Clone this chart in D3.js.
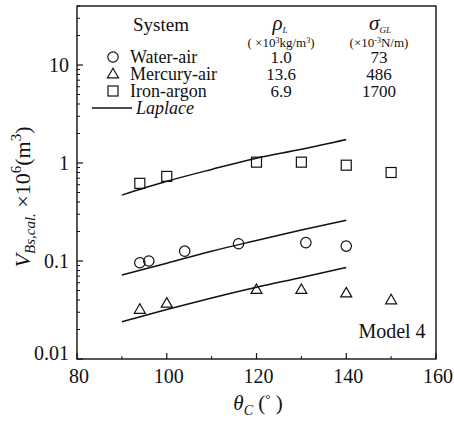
<!DOCTYPE html>
<html>
<head>
<meta charset="utf-8">
<script src="https://cdn.jsdelivr.net/npm/d3@7/dist/d3.min.js"></script>
<style>
  html, body { margin: 0; padding: 0; background: #fff; }
  svg, svg text { font-family: "Liberation Serif", "Times New Roman", "DejaVu Serif", serif; }
</style>
</head>
<body>
<svg id="chart" width="454" height="427"></svg>
<script>
// Measured bubble volumes (x = contact angle in degrees, y = volume ×10^6 m^3)
const waterAirAngle = [94, 96, 104, 116, 131, 140];
const waterAirVolume = [0.096, 0.100, 0.126, 0.150, 0.154, 0.142];
const mercuryAirAngle = [94, 100, 120, 130, 140, 150];
const mercuryAirVolume = [0.032, 0.037, 0.051, 0.051, 0.047, 0.040];
const ironArgonAngle = [94, 100, 120, 130, 140, 150];
const ironArgonVolume = [0.62, 0.73, 1.02, 1.02, 0.95, 0.80];

// Laplace-equation predictions
const laplaceAngle = [90, 100, 110, 120, 130, 140];
const laplaceWater = [0.072, 0.095, 0.126, 0.162, 0.207, 0.26];
const laplaceMercury = [0.024, 0.032, 0.042, 0.054, 0.068, 0.086];
const laplaceIron = [0.47, 0.65, 0.86, 1.12, 1.38, 1.74];

// Legend table
const systemNames = ["Water-air", "Mercury-air", "Iron-argon"];
const densityValues = ["1.0", "13.6", "6.9"];
const tensionValues = ["73", "486", "1700"];

const xTicks = [80, 100, 120, 140, 160];
const yTicks = [0.01, 0.1, 1, 10];
const yTickLabels = ["0.01", "0.1", "1", "10"];

const serif = "'Liberation Serif', 'Times New Roman', 'DejaVu Serif', serif";
const svg = d3.select("#chart").attr("font-family", serif);
const plotL = 77, plotR = 436, plotT = 6, plotB = 359;
const x = d3.scaleLinear().domain([80, 160]).range([plotL, plotR]);
const y = d3.scaleLog().domain([0.01, 40]).range([plotB, plotT]);

const ink = "#111";

// frame
svg.append("rect")
  .attr("x", plotL).attr("y", plotT)
  .attr("width", plotR - plotL).attr("height", plotB - plotT)
  .attr("fill", "none").attr("stroke", ink).attr("stroke-width", 1.4);

// y axis ticks (inward), major with labels
const yMinor = [];
for (let e = -2; e <= 1; e++) {
  for (let m = 2; m <= 9; m++) {
    const v = m * Math.pow(10, e);
    if (v <= 40) yMinor.push(v);
  }
}
const gy = svg.append("g");
gy.selectAll("line.minor").data(yMinor).join("line")
  .attr("x1", plotL).attr("x2", plotL + 3)
  .attr("y1", d => y(d)).attr("y2", d => y(d))
  .attr("stroke", ink).attr("stroke-width", 1);
gy.selectAll("line.major").data(yTicks).join("line")
  .attr("x1", plotL).attr("x2", plotL + 6)
  .attr("y1", d => y(d)).attr("y2", d => y(d))
  .attr("stroke", ink).attr("stroke-width", 1.2);
gy.selectAll("text").data(yTicks).join("text")
  .attr("x", plotL - 8)
  .attr("y", (d, i) => y(d) + (i === 0 ? -6 : 0))
  .attr("dy", "0.33em")
  .attr("text-anchor", "end")
  .attr("font-size", 20)
  .attr("fill", ink)
  .text((d, i) => yTickLabels[i]);

// x axis ticks (inward)
const xMinor = d3.range(90, 160, 20);
const gx = svg.append("g");
gx.selectAll("line.minor").data(xMinor).join("line")
  .attr("x1", d => x(d)).attr("x2", d => x(d))
  .attr("y1", plotB).attr("y2", plotB - 3)
  .attr("stroke", ink).attr("stroke-width", 1);
gx.selectAll("line.major").data(xTicks).join("line")
  .attr("x1", d => x(d)).attr("x2", d => x(d))
  .attr("y1", plotB).attr("y2", plotB - 6)
  .attr("stroke", ink).attr("stroke-width", 1.2);
gx.selectAll("text").data(xTicks).join("text")
  .attr("x", d => x(d) + 2).attr("y", plotB + 24)
  .attr("text-anchor", "middle")
  .attr("font-size", 20)
  .attr("fill", ink)
  .text(d => d);

// axis titles
const xt = svg.append("text")
  .attr("x", 258).attr("y", 410)
  .attr("text-anchor", "middle")
  .attr("font-size", 21).attr("fill", ink);
xt.append("tspan").attr("font-style", "italic").text("θ");
xt.append("tspan").attr("font-style", "italic").attr("font-size", 14).attr("dy", 5).text("C");
xt.append("tspan").attr("dy", -5).text(" (");
xt.append("tspan").attr("font-size", 13).attr("dy", -7).text("°");
xt.append("tspan").attr("dy", 7).text(" )");

const yt = svg.append("text")
  .attr("transform", "translate(30,197) rotate(-90)")
  .attr("text-anchor", "middle")
  .attr("font-size", 22).attr("fill", ink);
yt.append("tspan").attr("font-style", "italic").text("V");
yt.append("tspan").attr("font-style", "italic").attr("font-size", 15).attr("dy", 5).text("Bs,cal.");
yt.append("tspan").attr("dy", -5).text(" ×10");
yt.append("tspan").attr("font-size", 15).attr("dy", -9).text("6");
yt.append("tspan").attr("dy", 9).text("(m");
yt.append("tspan").attr("font-size", 15).attr("dy", -9).text("3");
yt.append("tspan").attr("dy", 9).text(")");

// Laplace curves
const line = d3.line()
  .x(d => x(d[0])).y(d => y(d[1]))
  .curve(d3.curveMonotoneX);
[laplaceIron, laplaceWater, laplaceMercury].forEach(vals => {
  svg.append("path")
    .datum(laplaceAngle.map((a, i) => [a, vals[i]]))
    .attr("d", line)
    .attr("fill", "none").attr("stroke", ink).attr("stroke-width", 1.5);
});

// marker drawers
const markStroke = 1.2;
function circleAt(g, cx, cy) {
  g.append("circle").attr("cx", cx).attr("cy", cy).attr("r", 5.2)
    .attr("fill", "none").attr("stroke", ink).attr("stroke-width", markStroke);
}
function triangleAt(g, cx, cy) {
  const s = 11;
  const h = s * Math.sqrt(3) / 2;
  g.append("path")
    .attr("d", `M${cx},${cy - h * 0.6}L${cx + s / 2},${cy + h * 0.4}L${cx - s / 2},${cy + h * 0.4}Z`)
    .attr("fill", "none").attr("stroke", ink).attr("stroke-width", markStroke);
}
function squareAt(g, cx, cy) {
  g.append("rect").attr("x", cx - 5).attr("y", cy - 5).attr("width", 10).attr("height", 10)
    .attr("fill", "none").attr("stroke", ink).attr("stroke-width", markStroke);
}

const pts = svg.append("g");
waterAirAngle.forEach((a, i) => circleAt(pts, x(a), y(waterAirVolume[i])));
mercuryAirAngle.forEach((a, i) => triangleAt(pts, x(a), y(mercuryAirVolume[i])));
ironArgonAngle.forEach((a, i) => squareAt(pts, x(a), y(ironArgonVolume[i])));

// legend table
const lg = svg.append("g").attr("fill", ink);
lg.append("text").attr("x", 133).attr("y", 31).attr("font-size", 19).text("System");

const rho = lg.append("text").attr("x", 280).attr("y", 30).attr("text-anchor", "middle").attr("font-size", 21);
rho.append("tspan").attr("font-style", "italic").text("ρ");
rho.append("tspan").attr("font-style", "italic").attr("font-size", 9).attr("dy", 3).text("L");

const sig = lg.append("text").attr("x", 380).attr("y", 30).attr("text-anchor", "middle").attr("font-size", 21);
sig.append("tspan").attr("font-style", "italic").text("σ");
sig.append("tspan").attr("font-style", "italic").attr("font-size", 9).attr("dy", 3).text("GL");

const u1 = lg.append("text").attr("x", 281).attr("y", 47).attr("text-anchor", "middle").attr("font-size", 13);
u1.append("tspan").text("( ×10");
u1.append("tspan").attr("font-size", 8).attr("dy", -4).text("3");
u1.append("tspan").attr("dy", 4).text("kg/m");
u1.append("tspan").attr("font-size", 8).attr("dy", -4).text("3");
u1.append("tspan").attr("dy", 4).text(")");

const u2 = lg.append("text").attr("x", 379).attr("y", 47).attr("text-anchor", "middle").attr("font-size", 13);
u2.append("tspan").text("(×10");
u2.append("tspan").attr("font-size", 8).attr("dy", -4).text("-3");
u2.append("tspan").attr("dy", 4).text("N/m)");

const rowY = [63, 80, 97];
const drawers = [circleAt, triangleAt, squareAt];
systemNames.forEach((name, i) => {
  drawers[i](lg, 113, rowY[i] - 6);
  lg.append("text").attr("x", 130).attr("y", rowY[i]).attr("font-size", 18).text(name);
  lg.append("text").attr("x", 281).attr("y", rowY[i]).attr("text-anchor", "middle").attr("font-size", 17).text(densityValues[i]);
  lg.append("text").attr("x", 379).attr("y", rowY[i]).attr("text-anchor", "middle").attr("font-size", 17).text(tensionValues[i]);
});
lg.append("line").attr("x1", 92).attr("x2", 132).attr("y1", 108).attr("y2", 108)
  .attr("stroke", ink).attr("stroke-width", 1.3);
lg.append("text").attr("x", 136).attr("y", 114).attr("font-size", 18).attr("font-style", "italic").text("Laplace");

// model tag
svg.append("text").attr("x", 392).attr("y", 338).attr("text-anchor", "middle")
  .attr("font-size", 20).attr("fill", ink).text("Model 4");
</script>
</body>
</html>
